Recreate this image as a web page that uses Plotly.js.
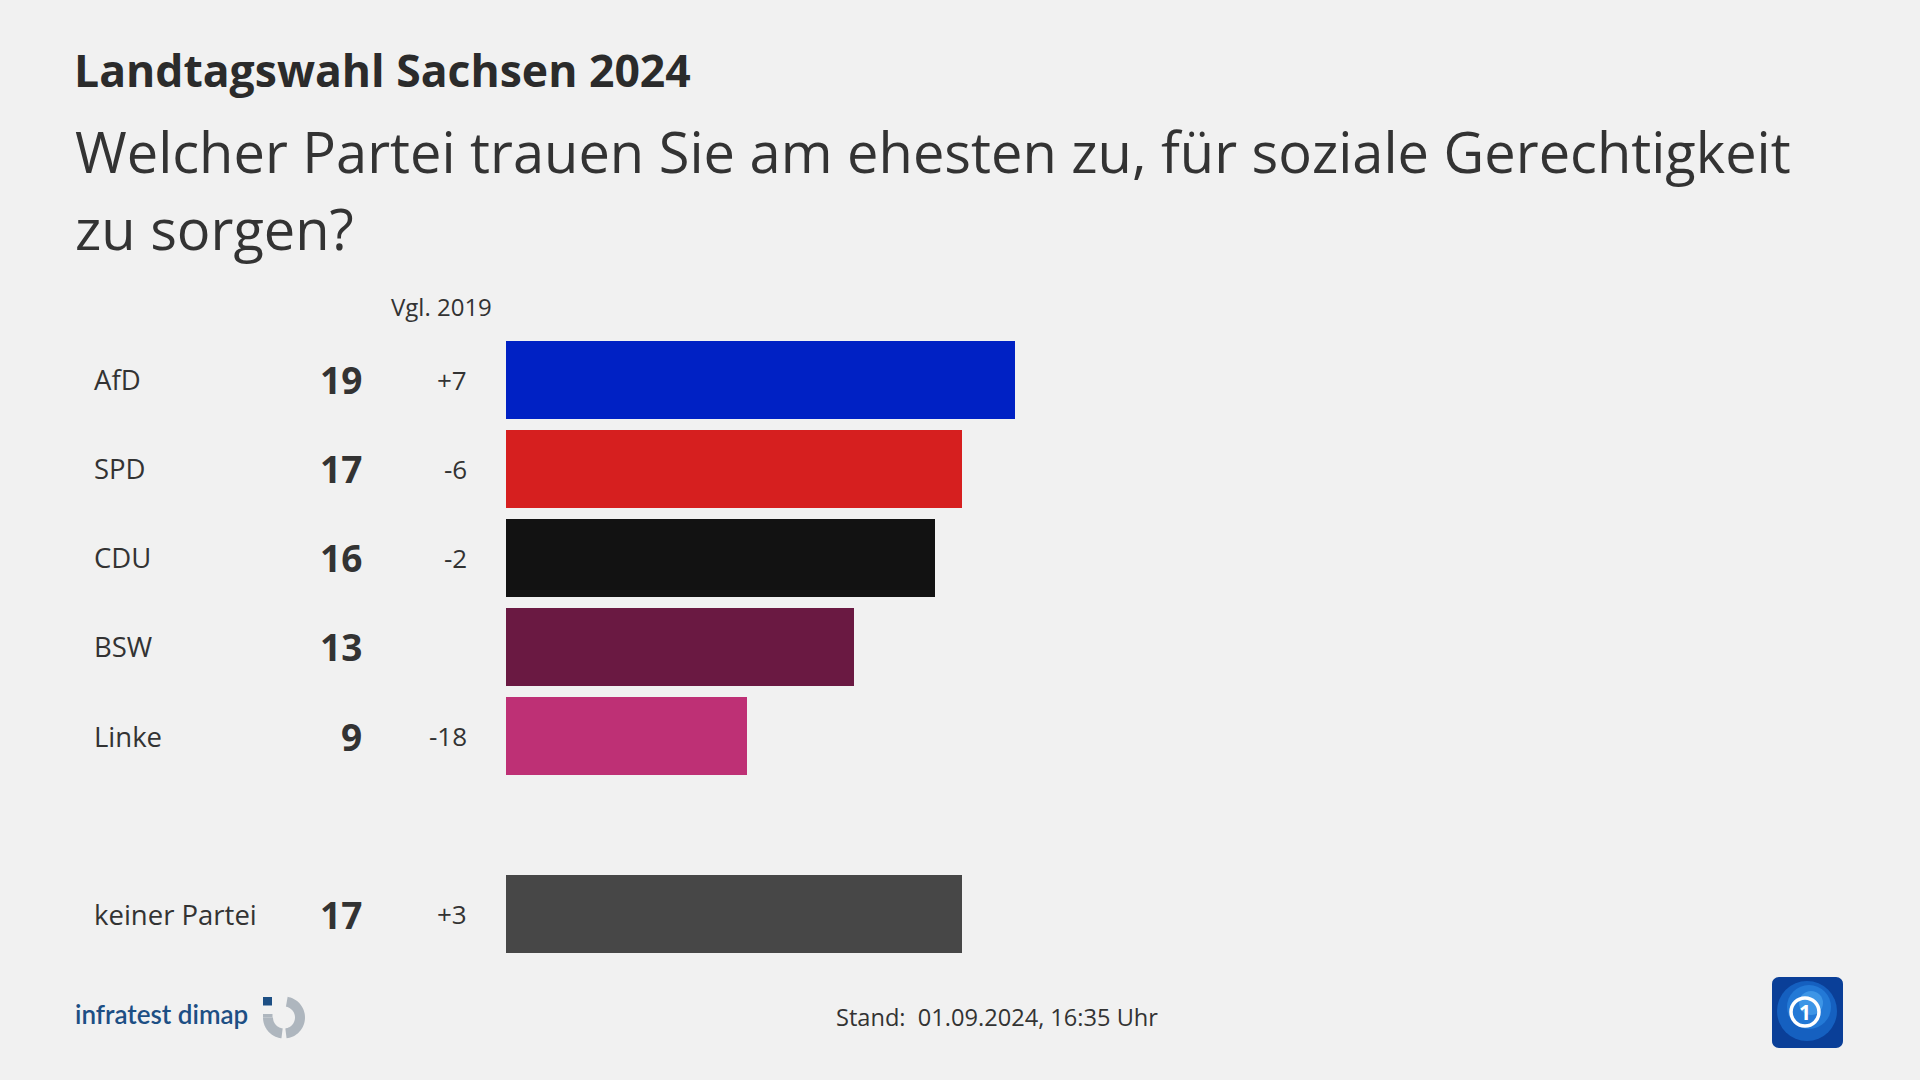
<!DOCTYPE html>
<html>
<head>
<meta charset="utf-8">
<script src="https://cdn.plot.ly/plotly-3.0.1.min.js"></script>
<style>
  html, body { margin: 0; padding: 0; background: #f1f1f1; }
  #chart { width: 1920px; height: 1080px; }
</style>
</head>
<body>
<div id="chart"></div>
<script>
// ---- data ----
const parties = ["AfD", "SPD", "CDU", "BSW", "Linke", "keiner Partei"];
const values = [19, 17, 16, 13, 9, 17];
const changes = ["+7", "-6", "-2", "", "-18", "+3"];
const rowPos = [0, 1, 2, 3, 4, 6];
const colors = ["#0021c4", "#d61f1f", "#121212", "#6a1942", "#be3075", "#474747"];

const titleText = "Landtagswahl Sachsen 2024";
const subtitleLines = ["Welcher Partei trauen Sie am ehesten zu, für soziale Gerechtigkeit", "zu sorgen?"];
const compareHeader = "Vgl. 2019";
const sourceText = "infratest dimap";
const standText = "Stand:\u00a0 01.09.2024, 16:35 Uhr";

// ---- helpers (pixel -> paper) ----
const W = 1920, H = 1080;
const px = x => x / W;
const py = y => 1 - y / H;
const FONT = "'Open Sans', Lato, sans-serif";
const TXT = "#333333";

const trace = {
  type: "bar",
  orientation: "h",
  x: values,
  y: rowPos,
  width: 0.875,
  marker: { color: colors, line: { width: 0 } },
  hoverinfo: "skip",
  showlegend: false
};

const annotations = [];
// subtitle lines
annotations.push({ xref: "paper", yref: "paper", x: px(73), y: py(151), xanchor: "left", yanchor: "middle",
  text: subtitleLines[0], showarrow: false, font: { family: FONT, size: 56, color: TXT } });
annotations.push({ xref: "paper", yref: "paper", x: px(73), y: py(228), xanchor: "left", yanchor: "middle",
  text: subtitleLines[1], showarrow: false, font: { family: FONT, size: 56, color: TXT } });
// header
annotations.push({ xref: "paper", yref: "paper", x: px(494), y: py(307), xanchor: "right", yanchor: "middle",
  text: compareHeader, showarrow: false, font: { family: FONT, size: 24, color: TXT } });
// row labels
parties.forEach((p, i) => {
  annotations.push({ xref: "paper", yref: "y", x: px(92), y: rowPos[i], xanchor: "left", yanchor: "middle",
    text: p, showarrow: false, font: { family: FONT, size: 27.5, color: TXT } });
  annotations.push({ xref: "paper", yref: "y", x: px(364), y: rowPos[i], xanchor: "right", yanchor: "middle",
    text: "<b>" + values[i] + "</b>", showarrow: false, font: { family: FONT, size: 37, color: TXT } });
  if (changes[i]) annotations.push({ xref: "paper", yref: "y", x: px(469), y: rowPos[i], xanchor: "right", yanchor: "middle",
    text: changes[i], showarrow: false, font: { family: FONT, size: 26, color: TXT } });
});
// footer
annotations.push({ xref: "paper", yref: "paper", x: px(73), y: py(1014), xanchor: "left", yanchor: "middle",
  text: sourceText, showarrow: false, font: { family: "Lato, sans-serif", size: 26, color: "#1d4f84", weight: 600 } });
annotations.push({ xref: "paper", yref: "paper", x: px(997), y: py(1017), xanchor: "center", yanchor: "middle",
  text: standText, showarrow: false, font: { family: FONT, size: 23.6, color: TXT } });
// tagesschau "1"
annotations.push({ xref: "paper", yref: "paper", x: px(1805), y: py(1012), xanchor: "center", yanchor: "middle",
  text: "<b>1</b>", showarrow: false, font: { family: FONT, size: 21, color: "#ffffff" } });

// ---- decorative shapes (logos) ----
function arcPath(cx, cy, r1, r2, a0, a1) {
  const n = 40; let d = "";
  for (let k = 0; k <= n; k++) {
    const a = (a0 + (a1 - a0) * k / n) * Math.PI / 180;
    d += (k === 0 ? "M" : "L") + px(cx + r2 * Math.cos(a)) + "," + py(cy + r2 * Math.sin(a));
  }
  for (let k = n; k >= 0; k--) {
    const a = (a0 + (a1 - a0) * k / n) * Math.PI / 180;
    d += "L" + px(cx + r1 * Math.cos(a)) + "," + py(cy + r1 * Math.sin(a));
  }
  return d + "Z";
}
function roundRect(x0, y0, x1, y1, r) {
  let d = "";
  const corners = [[x1 - r, y0 + r, -90], [x1 - r, y1 - r, 0], [x0 + r, y1 - r, 90], [x0 + r, y0 + r, 180]];
  corners.forEach((c, ci) => {
    for (let k = 0; k <= 8; k++) {
      const a = (c[2] + 90 * k / 8) * Math.PI / 180;
      d += ((ci === 0 && k === 0) ? "M" : "L") + px(c[0] + r * Math.cos(a)) + "," + py(c[1] + r * Math.sin(a));
    }
  });
  return d + "Z";
}
function circ(cx, cy, r, fill, line, lw) {
  return { type: "circle", xref: "paper", yref: "paper", x0: px(cx - r), x1: px(cx + r), y0: py(cy + r), y1: py(cy - r),
    fillcolor: fill, line: { color: line || fill, width: lw || 0 }, layer: "above" };
}
const shapes = [];
// infratest dimap icon
shapes.push({ type: "path", xref: "paper", yref: "paper", path: arcPath(284, 1017.5, 11, 21, -80, 83), fillcolor: "#aeb6be", line: { width: 0 } });
shapes.push({ type: "path", xref: "paper", yref: "paper", path: arcPath(284, 1017.5, 11, 21, 97, 180), fillcolor: "#aeb6be", line: { width: 0 } });
shapes.push({ type: "rect", xref: "paper", yref: "paper", x0: px(263), x1: px(272.5), y0: py(1014), y1: py(1017.5), fillcolor: "#aeb6be", line: { width: 0 } });
shapes.push({ type: "rect", xref: "paper", yref: "paper", x0: px(263), x1: px(272), y0: py(1005.5), y1: py(997), fillcolor: "#1d4f84", line: { width: 0 } });
// tagesschau logo
shapes.push({ type: "path", xref: "paper", yref: "paper", path: roundRect(1772, 977, 1843, 1048, 7), fillcolor: "#0a3f98", line: { width: 0 }, layer: "above" });
shapes.push(circ(1807, 1011, 30, "#1560c0"));
shapes.push(circ(1809, 1007, 22, "#2379d6"));
shapes.push(circ(1811, 1003, 12, "#3d95e6"));
shapes.push(circ(1805, 1012, 14, "rgba(0,0,0,0)", "#ffffff", 3.5));

const layout = {
  width: W, height: H,
  paper_bgcolor: "#f1f1f1", plot_bgcolor: "#f1f1f1",
  margin: { l: 0, r: 0, t: 0, b: 0 },
  title: { text: "<b>" + titleText + "</b>", x: px(74), xanchor: "left", y: py(71), yanchor: "middle", xref: "paper", yref: "paper",
    font: { family: FONT, size: 44.5, color: "#2b2b2b" } },
  xaxis: { domain: [px(506), px(1846)], range: [0, 50], showgrid: false, zeroline: false, showticklabels: false, showline: false, fixedrange: true },
  yaxis: { domain: [py(1003.3), py(290.5)], range: [7, -1], autorange: false, showgrid: false, zeroline: false, showticklabels: false, showline: false, fixedrange: true },
  bargap: 0,
  annotations: annotations,
  shapes: shapes,
  showlegend: false,
  hovermode: false
};

Plotly.newPlot("chart", [trace], layout, { staticPlot: true, displayModeBar: false });
</script>
</body>
</html>
